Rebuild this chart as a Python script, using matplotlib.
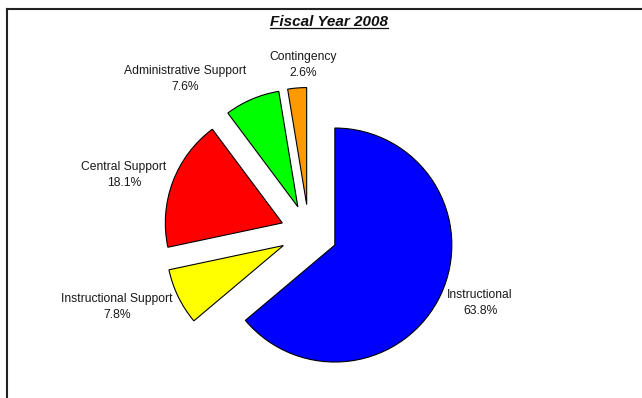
import matplotlib
matplotlib.use("Agg")
import matplotlib.pyplot as plt
from matplotlib.lines import Line2D

# Budget shares by category, fiscal year 2008
categories = ["Instructional", "Instructional Support", "Central Support",
              "Administrative Support", "Contingency"]
shares = [63.8, 7.8, 18.1, 7.6, 2.6]
slice_colors = ["#0000FF", "#FFFF00", "#FF0000", "#00FF00", "#FF9900"]
title_text = "Fiscal Year 2008"

W, H = 642, 398
plt.rcParams["font.family"] = ["Liberation Sans", "DejaVu Sans"]

fig = plt.figure(figsize=(W / 100, H / 100), dpi=100)
ax = fig.add_axes([0, 0, 1, 1])

radius = 117
gap = 28.5
wedges, _ = ax.pie(
    shares,
    colors=slice_colors,
    startangle=90,
    counterclock=False,
    explode=[gap] * len(shares),
    radius=radius,
    center=(309, H - 233),
    wedgeprops=dict(edgecolor="black", linewidth=0.8),
)
ax.set_xlim(0, W)
ax.set_ylim(0, H)
ax.set_aspect("equal")
ax.axis("off")

# Category labels with percentages
label_pos = [(480, 303), (117, 307), (124, 175), (185, 79), (303, 65)]
for name, val, (px, py) in zip(categories, shares, label_pos):
    ax.text(px, H - py, f"{name}\n{val:.1f}%", ha="center", va="center",
            fontsize=8.7, color="#1a1a1a", linespacing=1.45)

# Title, bold italic and underlined
t = ax.text(329, H - 22, title_text, ha="center", va="center",
            fontsize=11, fontweight="bold", fontstyle="italic", color="#111111")
fig.canvas.draw()
bb = t.get_window_extent(renderer=fig.canvas.get_renderer())
uy = bb.y0 + 1
ax.add_line(Line2D([bb.x0, bb.x1], [uy, uy], color="#111111", linewidth=0.9))

# Outer frame (left and top edges)
ax.add_line(Line2D([7, 7], [0, H - 9], color="#222222", linewidth=1.5))
ax.add_line(Line2D([7, W], [H - 9, H - 9], color="#222222", linewidth=1.5))

fig.savefig("out.png", dpi=100)
